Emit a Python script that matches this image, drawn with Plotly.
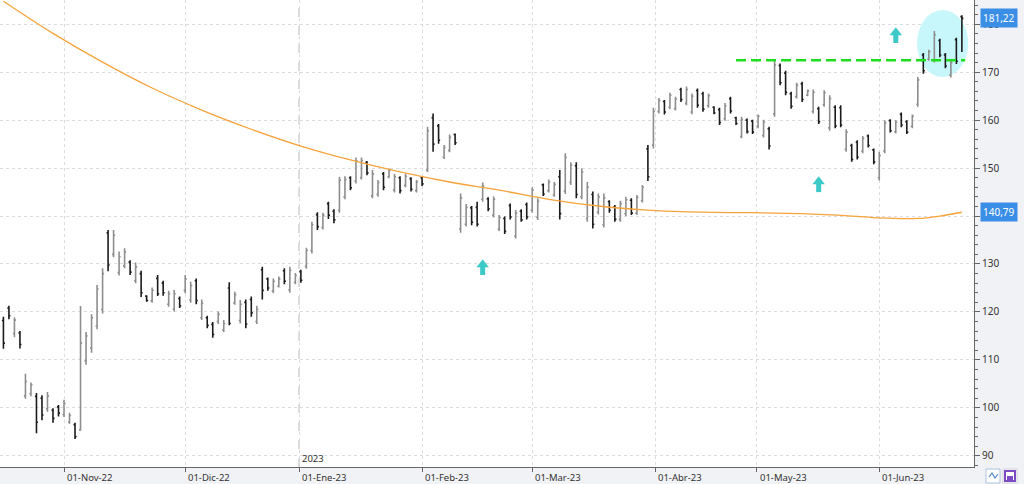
import numpy as np
import pandas as pd
import plotly.graph_objects as go

# ---------------- data ----------------
holidays = ["2022-12-26", "2023-04-07", "2023-04-10", "2023-05-01"]
dates = pd.bdate_range("2022-10-17", "2023-06-22")
dates = dates[~dates.isin(pd.to_datetime(holidays))]

opens = [118.2,120.8,115.5,115.6,102.5,103.0,102.4,102.0,99.8,99.5,
         100.2,98.6,97.0,96.5,95.4,109.8,112.5,117.0,120.5,136.5,
         132.0,128.2,129.6,130.4,126.5,128.0,123.3,122.3,127.0,126.0,
         121.6,120.6,122.8,124.5,122.5,126.5,118.8,118.8,117.4,118.0,
         116.2,125.0,121.9,118.2,122.0,122.6,118.0,128.8,126.9,124.4,
         125.4,128.6,124.6,126.2,128.4,129.5,132.8,140.3,137.6,142.6,
         141.0,141.2,144.0,148.0,147.3,148.0,151.2,144.2,144.5,148.8,
         148.2,145.4,148.0,146.4,147.8,145.3,148.0,149.6,160.5,158.8,
         152.3,153.7,157.0,137.3,138.3,141.7,141.8,143.5,143.6,140.2,
         137.3,139.5,142.2,135.8,141.0,142.4,141.2,139.7,146.5,145.3,
         144.4,148.2,145.2,147.0,150.5,144.0,139.5,144.5,140.8,138.2,
         143.0,141.9,139.3,140.5,143.3,140.6,143.2,154.0,154.8,161.8,
         163.9,162.7,162.4,166.4,163.5,161.7,166.2,165.5,163.0,162.7,
         162.2,160.3,164.5,160.5,156.6,160.0,159.8,158.7,156.8,158.2,
         161.3,171.4,169.8,165.5,164.9,167.6,165.2,161.8,162.4,163.2,
         158.4,162.7,162.6,153.9,154.7,155.4,153.5,156.7,153.8,148.0,
         153.6,159.9,157.6,161.2,159.7,158.7,163.3,173.6,172.7,172.6,
         176.6,173.6,169.4,176.8,181.6]

highs = [119.0,121.3,118.9,116.0,107.1,105.3,103.1,102.6,103.3,99.9,
         100.6,101.7,99.0,96.9,121.25,115.8,119.5,125.6,129.1,137.1,
         137.1,132.6,133.3,130.8,130.3,128.6,123.5,125.1,127.7,126.5,
         124.4,124.6,123.2,127.7,126.3,127.0,122.6,119.2,117.9,120.1,
         118.3,126.2,124.2,122.5,122.6,123.2,121.3,129.4,127.2,127.0,
         127.4,129.1,129.4,128.1,128.8,133.4,138.8,140.8,140.7,143.0,
         141.4,148.2,148.3,148.3,152.2,152.2,151.5,149.6,147.5,149.2,
         149.9,148.75,148.3,148.75,148.1,147.5,148.3,158.6,161.4,159.2,
         154.8,157.0,157.2,144.7,142.5,142.1,143.0,147.0,143.9,144.1,
         140.2,139.9,142.6,141.25,141.4,142.8,146.0,143.7,146.8,147.6,
         147.1,149.6,153.1,151.2,151.2,149.9,147.1,145.1,144.7,144.7,
         143.3,142.3,143.2,144.0,143.7,144.4,146.5,154.8,162.6,164.6,
         164.2,165.7,164.9,166.75,167.0,165.55,166.6,165.9,165.55,162.9,
         162.6,163.6,164.9,160.7,160.7,160.35,160.1,161.2,160.1,158.6,
         172.5,171.8,170.3,165.9,167.8,168.0,166.4,166.4,162.8,166.25,
         165.2,163.1,163.1,158.1,155.1,155.8,156.7,157.0,154.1,153.4,
         160.0,160.2,160.0,161.6,160.0,161.2,169.0,174.0,174.7,178.6,
         177.0,174.0,172.6,177.2,181.9]

lows = [112.3,118.5,114.7,112.4,101.9,102.4,94.7,97.4,99.2,96.9,
        98.2,98.1,96.7,93.5,95.2,109.0,111.5,116.4,119.7,128.5,
        131.4,127.6,129.1,127.7,126.0,123.1,122.1,121.9,123.3,123.4,
        121.1,120.1,120.8,123.9,121.9,121.6,118.3,116.6,114.6,117.5,
        115.8,117.2,121.5,117.6,116.6,119.0,117.5,122.6,124.4,123.9,
        125.1,125.8,124.0,125.8,126.1,129.0,132.2,137.1,137.2,139.4,
        138.5,140.7,143.5,145.4,146.8,147.6,148.5,143.7,144.0,145.4,
        147.9,144.9,144.7,146.0,145.1,144.9,146.25,149.2,153.4,155.1,
        151.9,153.3,154.8,136.5,137.8,138.1,137.8,143.0,141.0,139.7,
        136.9,136.25,139.3,135.3,138.8,139.3,140.7,139.2,144.2,144.9,
        144.0,139.3,144.6,146.5,143.7,143.5,138.8,137.4,140.3,137.6,
        140.7,138.8,138.8,140.0,140.2,140.2,142.8,147.3,154.1,161.4,
        161.2,162.3,162.0,163.8,163.1,161.25,162.6,161.75,162.6,161.25,
        159.0,159.9,161.4,159.0,156.2,157.2,157.1,158.3,156.4,153.9,
        160.7,167.3,165.2,162.4,164.5,163.8,165.0,161.4,159.2,162.8,
        157.8,158.3,158.5,153.4,151.3,151.8,153.1,154.3,150.8,147.4,
        153.1,157.4,157.2,158.5,157.1,158.3,162.8,169.7,172.4,172.0,
        173.1,170.8,168.9,171.7,174.2]

closes = [113.5,119.2,118.3,113.2,105.5,104.8,97.0,98.5,102.5,97.8,
          98.9,100.9,98.4,94.0,113.5,115.0,118.8,124.8,128.0,129.8,
          136.0,131.5,132.5,128.3,129.4,124.0,122.4,124.5,123.8,124.0,
          123.8,123.8,121.3,126.9,125.5,122.4,121.8,117.2,115.3,119.5,
          117.6,117.6,123.6,121.6,117.5,119.8,120.5,124.5,125.0,126.4,
          126.9,126.4,128.7,127.6,126.6,132.8,138.2,137.8,140.2,140.2,
          139.2,147.5,147.6,145.9,151.5,151.6,149.0,148.8,147.0,146.0,
          149.5,148.2,145.3,148.3,145.6,147.1,146.7,157.8,155.0,155.8,
          154.3,156.4,155.3,143.8,141.8,138.7,138.3,146.3,141.5,143.5,
          139.7,136.8,139.8,140.6,139.2,139.8,145.4,143.1,144.6,147.1,
          146.6,140.5,152.2,150.6,144.5,149.2,146.0,138.3,144.0,143.8,
          141.2,139.3,142.6,143.4,140.6,143.9,146.0,148.2,161.8,164.1,
          161.7,165.2,164.4,164.3,166.4,165.0,163.1,162.3,165.1,161.5,
          159.5,163.0,161.9,159.3,160.1,157.6,157.5,160.8,159.6,154.6,
          171.5,167.8,165.8,162.9,167.3,164.3,166.1,165.8,159.7,165.7,
          164.5,158.8,159.0,157.5,151.8,152.3,156.2,154.7,151.3,152.6,
          159.4,157.8,159.6,159.0,157.5,160.8,168.4,170.3,174.3,177.8,
          173.6,171.3,172.0,172.3,181.22]

# 200-session moving average, read at sampled sessions
ma_dates = ["2022-10-17", "2022-10-28", "2022-11-10", "2022-11-23", "2022-12-06",
            "2022-12-19", "2023-01-02", "2023-01-13", "2023-01-26", "2023-02-08",
            "2023-02-21", "2023-03-06", "2023-03-17", "2023-03-30", "2023-04-17",
            "2023-04-28", "2023-05-12", "2023-05-25", "2023-06-01", "2023-06-12",
            "2023-06-16", "2023-06-22"]
ma_vals = [184.8, 178.1, 172.1, 166.7, 162.1, 158.1, 154.6, 151.7, 149.2, 147.1,
           145.4, 143.5, 142.1, 141.25, 140.8, 140.7, 140.5, 140.0, 139.6, 139.5,
           140.0, 140.79]

month_starts = ["2022-11-01", "2022-12-01", "2023-01-01", "2023-02-01",
                "2023-03-01", "2023-04-01", "2023-05-01", "2023-06-01"]
month_labels = ["01-Nov-22", "01-Dic-22", "01-Ene-23", "01-Feb-23",
                "01-Mar-23", "01-Abr-23", "01-May-23", "01-Jun-23"]
y_ticks = [90, 100, 110, 120, 130, 140, 150, 160, 170, 180]

signal_dates = ["2023-02-16", "2023-05-17", "2023-06-06"]
signal_levels = [131.0, 148.3, 179.4]   # arrow tips

resistance_level = 172.5
resistance_start = "2023-04-25"
last_close = 181.22
last_ma = 140.79

# ---------------- helpers ----------------
idx = np.arange(len(dates))
ordinals = np.array([d.toordinal() for d in dates])


def pos(d):
    return float(np.interp(pd.Timestamp(d).toordinal(), ordinals, idx))


FONT = "Noto Sans, Open Sans, sans-serif"
Y_RANGE = [87.66, 185.06]
PLOT_W = 1024 - 50
PLOT_H = 484 - 17
PPU = PLOT_H / (Y_RANGE[1] - Y_RANGE[0])   # pixels per price unit
TEAL = "#3ec9c9"


def px_x(px):   # pixel column -> paper x (decorations only)
    return px / PLOT_W


def px_y(py):   # pixel row -> paper y (decorations only)
    return (PLOT_H - py) / PLOT_H


fig = go.Figure()

fig.add_trace(go.Ohlc(
    x=idx, open=opens, high=highs, low=lows, close=closes,
    increasing=dict(line=dict(color="#8e8e8e", width=1.6)),
    decreasing=dict(line=dict(color="#1c1c1c", width=1.6)),
    tickwidth=0.28, showlegend=False, hoverinfo="skip"))

fig.add_trace(go.Scatter(
    x=[pos(d) for d in ma_dates], y=ma_vals, mode="lines",
    line=dict(color="#f5a33a", width=1.3, shape="spline"),
    showlegend=False, hoverinfo="skip"))

# signal arrows: stem + head markers
sig_x = [pos(d) for d in signal_dates]
head_r = 5.4
fig.add_trace(go.Scatter(
    x=sig_x, y=[v - (1.5 * head_r + 3.2) / PPU for v in signal_levels],
    mode="markers", marker=dict(symbol="line-ns", size=6.5,
                                line=dict(color=TEAL, width=5)),
    showlegend=False, hoverinfo="skip"))
fig.add_trace(go.Scatter(
    x=sig_x, y=[v - head_r / PPU for v in signal_levels],
    mode="markers", marker=dict(symbol="triangle-up", size=2 * head_r,
                                color=TEAL, line=dict(width=0)),
    showlegend=False, hoverinfo="skip"))

tick_pos = [pos(d) for d in month_starts]
jan_pos = pos("2023-01-01")

shapes = []
# highlight ellipse
ell_c = pos("2023-06-16") + 0.5
shapes.append(dict(type="circle", xref="x", yref="y",
                   x0=ell_c - 4.65, x1=ell_c + 4.65,
                   y0=169.0, y1=183.0, fillcolor="#c8f7fb",
                   line=dict(width=0), layer="between"))
# year boundary
shapes.append(dict(type="line", xref="x", yref="paper", x0=jan_pos, x1=jan_pos,
                   y0=0, y1=1, line=dict(color="#c4c4c4", width=1.2, dash="dash"),
                   layer="between"))
# resistance line
shapes.append(dict(type="line", xref="x", yref="y",
                   x0=pos(resistance_start), x1=idx[-1] + 0.6,
                   y0=resistance_level, y1=resistance_level,
                   line=dict(color="#1fdc1f", width=2.5, dash="10px,5px"),
                   layer="above"))
# bottom-right toolbar icons
shapes.append(dict(type="rect", xref="paper", yref="paper",
                   x0=px_x(986), x1=px_x(1000), y0=px_y(469), y1=px_y(483),
                   line=dict(color="#a8c4e0", width=1), fillcolor="#ffffff"))
shapes.append(dict(type="path", xref="paper", yref="paper",
                   path="M{},{} L{},{} L{},{} L{},{}".format(
                       px_x(989), px_y(477), px_x(992), px_y(473),
                       px_x(995), px_y(478), px_x(998), px_y(474)),
                   line=dict(color="#4f86c8", width=1.2)))
shapes.append(dict(type="rect", xref="paper", yref="paper",
                   x0=px_x(1003), x1=px_x(1017), y0=px_y(469), y1=px_y(483),
                   line=dict(color="#d0d0da", width=1), fillcolor="#ffffff"))
shapes.append(dict(type="rect", xref="paper", yref="paper",
                   x0=px_x(1005), x1=px_x(1015), y0=px_y(471), y1=px_y(481),
                   line=dict(color="#7b4cc4", width=2), fillcolor="#ffffff"))
shapes.append(dict(type="rect", xref="paper", yref="paper",
                   x0=px_x(1007), x1=px_x(1013), y0=px_y(476), y1=px_y(481),
                   line=dict(width=0), fillcolor="#7b4cc4"))

annotations = []
for p, lab in zip(tick_pos, month_labels):
    annotations.append(dict(x=p, xref="x", y=0, yref="paper", text=lab,
                            xanchor="left", yanchor="top", xshift=1, yshift=-2,
                            showarrow=False,
                            font=dict(family=FONT, size=9.5, color="#333333")))
annotations.append(dict(x=jan_pos, xref="x", y=0, yref="paper", text="2023",
                        xanchor="left", yanchor="bottom", xshift=1, yshift=0,
                        showarrow=False,
                        font=dict(family=FONT, size=9.5, color="#333333")))
annotations.append(dict(x=1, xref="paper", y=last_close, yref="y",
                        text="181,22", xanchor="left", xshift=6,
                        showarrow=False, bgcolor="#3a8ee6", borderpad=2,
                        font=dict(family=FONT, size=10, color="#ffffff")))
annotations.append(dict(x=1, xref="paper", y=last_ma, yref="y",
                        text="140,79", xanchor="left", xshift=6,
                        showarrow=False, bgcolor="#3a8ee6", borderpad=2,
                        font=dict(family=FONT, size=10, color="#ffffff")))

fig.update_layout(
    width=1024, height=484,
    margin=dict(l=0, r=50, t=0, b=17),
    paper_bgcolor="#f1f2f5", plot_bgcolor="#ffffff",
    shapes=shapes, annotations=annotations,
    xaxis=dict(range=[-0.62, 176.2], tickvals=tick_pos, showticklabels=False,
               ticks="outside", ticklen=4, tickcolor="#666666",
               showgrid=True, gridcolor="#dcdcdc", griddash="dot", gridwidth=1,
               showline=True, linecolor="#666666", linewidth=1,
               zeroline=False, rangeslider=dict(visible=False), fixedrange=True),
    yaxis=dict(side="right", range=Y_RANGE, tickvals=y_ticks,
               ticktext=[str(v) for v in y_ticks],
               ticks="outside", ticklen=5, tickcolor="#666666",
               tickfont=dict(family=FONT, size=10, color="#333333"),
               showgrid=True, gridcolor="#dcdcdc", griddash="dot", gridwidth=1,
               showline=True, linecolor="#666666", linewidth=1, zeroline=False,
               minor=dict(dtick=2, tick0=0, ticks="outside", ticklen=3,
                          tickcolor="#666666", showgrid=False),
               fixedrange=True),
    font=dict(family=FONT),
    showlegend=False,
)

fig.write_html("out.html", config={"displayModeBar": False},
               post_script="document.body.style.margin='0';"
                           "document.body.style.overflow='hidden';")
